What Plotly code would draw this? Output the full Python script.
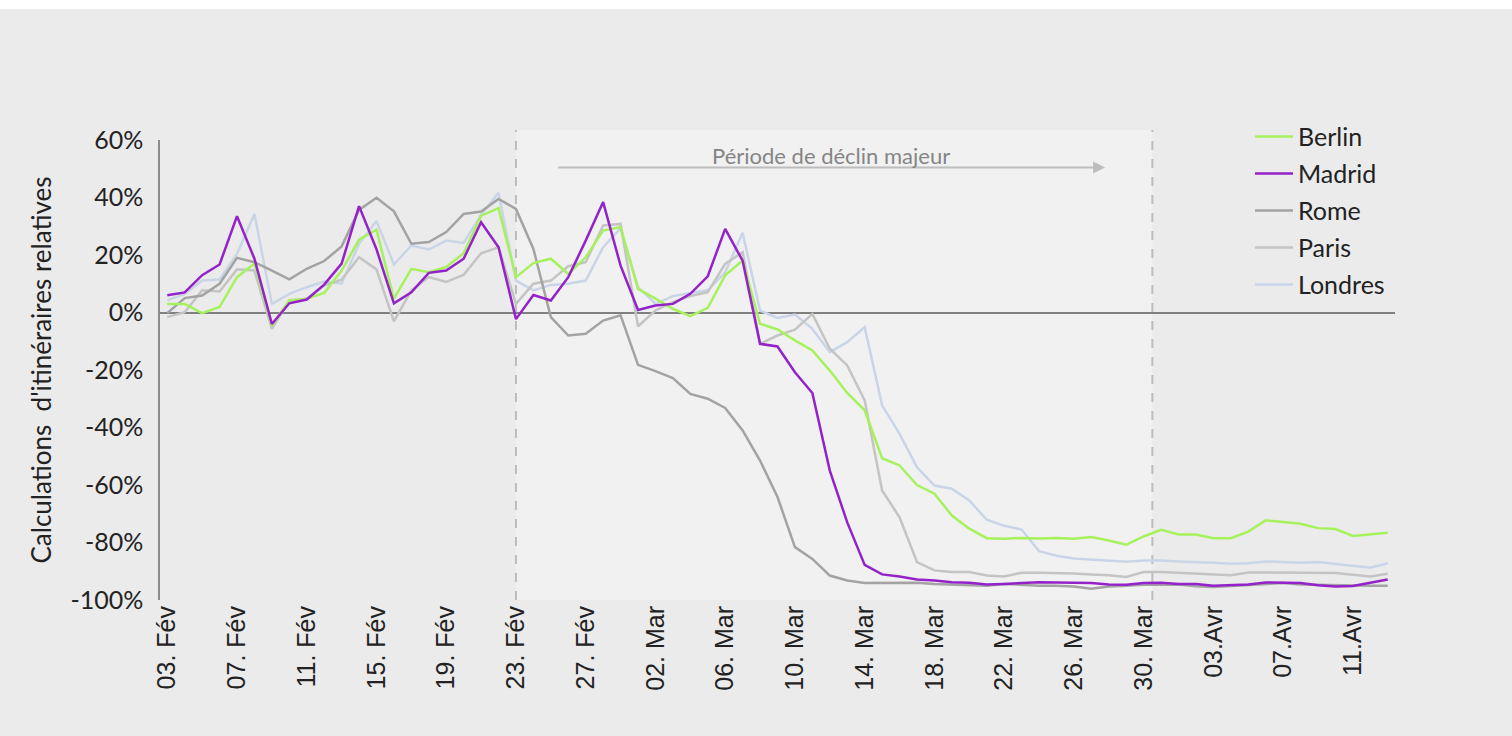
import pandas as pd
import plotly.graph_objects as go

# ---------------- data ----------------
dates = pd.date_range("2020-02-03", periods=71, freq="D")

berlin = [3, 3, -0.2, 1.9, 12.3, 17, -4.5, 4.2, 4.8, 6.8,
          14.6, 25.3, 28.8, 4.8, 15.2, 14, 15.8, 20.6, 33.7, 36.3,
          12.3, 17.2, 18.7, 13.4, 19.2, 28.5, 29.7, 8.2, 4.8, 1.3,
          -1.3, 1.6, 12.9, 18.1, -3.9, -5.9, -9.7, -13.2, -20.2, -28,
          -34, -50.7, -53.2, -60, -63, -70.6, -75.2, -78.5, -78.7, -78.4,
          -78.6, -78.4, -78.7, -78.1, -79.3, -80.8, -77.9, -75.6, -77.2, -77.2,
          -78.5, -78.5, -76.2, -72.3, -72.9, -73.5, -75, -75.3, -77.7, -77.2,
          -76.6]

madrid = [6, 7, 13, 16.7, 33.5, 18.7, -4, 3.2, 4.5, 9.7,
          17, 37, 22, 3.2, 7, 13.8, 14.6, 18.7, 31.4, 22.7,
          -2.3, 6.1, 4.2, 12.3, 25, 38.4, 16.3, 0.9, 2.4, 3,
          6.5, 12.6, 29.1, 18, -10.9, -11.8, -20.8, -28, -55, -73,
          -87.8, -91.1, -91.8, -92.9, -93.2, -93.8, -94, -94.6, -94.4, -94,
          -93.8, -93.9, -94, -94.1, -94.6, -94.7, -94.1, -94, -94.4, -94.4,
          -95, -94.9, -94.6, -93.9, -93.9, -94.1, -94.9, -95.3, -95.1, -94.1,
          -92.9]

rome = [-0.2, 5, 5.9, 10, 19, 17.5, 14.6, 11.5, 15.2, 17.9,
        23, 35.7, 39.9, 35.2, 23.9, 24.5, 28, 34.3, 35.1, 39.5,
        36, 22.1, -1.6, -8, -7.4, -2.8, -1, -18.2, -20.4, -22.8,
        -28.3, -30, -33.2, -41, -51.5, -64.2, -81.6, -85.7, -91.5, -93.2,
        -94.1, -94.1, -94.1, -94, -94.4, -94.6, -95, -95, -94.4, -94.8,
        -95, -95, -95.3, -96.1, -95.3, -95, -94.7, -94.7, -94.6, -95.2,
        -95.5, -95.1, -94.7, -94.4, -94.1, -94.6, -94.7, -95, -95, -95,
        -95]

paris = [-1.6, 0.1, 7.7, 7.3, 15, 14.6, -5.7, 4.2, 4.8, 9.4,
         11.4, 19.2, 15, -3.1, 7.7, 12.3, 10.6, 13.1, 20.6, 22.7,
         3, 10, 11.1, 16.1, 17.5, 30.3, 30.8, -4.8, 0.7, 3.6,
         5.7, 7.1, 16.9, 21, -10.9, -8, -6, -0.5, -12.6, -18.4,
         -30.6, -61.9, -71.2, -86.8, -89.7, -90.3, -90.3, -91.5, -91.8, -90.5,
         -90.5, -90.6, -90.8, -91.1, -91.4, -92, -90.3, -90.3, -90.6, -90.8,
         -91.2, -91.4, -90.4, -90.4, -90.6, -90.6, -90.6, -90.6, -91.2, -91.8,
         -90.9]

londres = [4.2, 6.5, 11.1, 11.5, 20.4, 34.3, 3, 6.5, 8.8, 10.8,
           10, 23.9, 31.8, 16.7, 23.3, 21.9, 25, 24.2, 34, 41.6,
           11.1, 7.7, 9.6, 10, 11.1, 22.7, 29.3, 8.8, 3, 5.7,
           6.8, 7.7, 14, 27.7, 0.7, -1.9, -0.7, -5.7, -13.8, -10.3,
           -5.1, -32.3, -42.2, -53.8, -60.2, -61.3, -65.4, -72.1, -74.2, -75.5,
           -83, -84.6, -85.6, -86, -86.5, -86.7, -86.3, -86.3, -86.6, -86.7,
           -87, -87.4, -87.2, -86.6, -86.8, -87, -86.8, -87.4, -88, -88.8,
           -87.2]

tick_dates = ["2020-02-03", "2020-02-07", "2020-02-11", "2020-02-15", "2020-02-19",
              "2020-02-23", "2020-02-27", "2020-03-02", "2020-03-06", "2020-03-10",
              "2020-03-14", "2020-03-18", "2020-03-22", "2020-03-26", "2020-03-30",
              "2020-04-03", "2020-04-07", "2020-04-11"]
tick_labels = ["03. Fév", "07. Fév", "11. Fév", "15. Fév", "19. Fév",
               "23. Fév", "27. Fév", "02. Mar", "06. Mar", "10. Mar",
               "14. Mar", "18. Mar", "22. Mar", "26. Mar", "30. Mar",
               "03.Avr", "07.Avr", "11.Avr"]
y_ticks = [-100, -80, -60, -40, -20, 0, 20, 40, 60]
y_labels = ["-100%", "-80%", "-60%", "-40%", "-20%", "0%", "20%", "40%", "60%"]

period_start = "2020-02-23"
period_end = "2020-03-30 12:00"

# ---------------- figure ----------------
BG = "#ebebeb"
fig = go.Figure()

series = [
    ("Londres", londres, "#c9d5e7", 5),
    ("Paris", paris, "#c4c4c4", 4),
    ("Rome", rome, "#a3a3a3", 3),
    ("Berlin", berlin, "#a6f25c", 1),
    ("Madrid", madrid, "#9422c9", 2),
]
for name, vals, color, rank in series:
    fig.add_trace(go.Scatter(
        x=dates, y=vals, mode="lines", name=name,
        line=dict(color=color, width=2.5),
        legendrank=rank, legendgroup=name,
        hovertemplate="%{y:.1f}%<extra>" + name + "</extra>",
    ))

# shaded period + dashed boundaries
fig.add_shape(type="rect", xref="x", yref="paper",
              x0=period_start, x1=period_end, y0=0, y1=1.022,
              fillcolor="#f1f1f1", line=dict(width=0), layer="below")
for xv in (period_start, period_end):
    fig.add_shape(type="line", xref="x", yref="paper",
                  x0=xv, x1=xv, y0=0, y1=1.022,
                  line=dict(color="#bdbdbd", width=2, dash="dash"), layer="below")

# white band at top of page
fig.add_shape(type="rect", xref="paper", yref="paper",
              x0=-0.3, x1=1.3, y0=1.2848, y1=1.4,
              fillcolor="white", line=dict(width=0))

# arrow + label
fig.add_annotation(x="2020-03-27 19:00", y=50.4, ax="2020-02-25 08:00", ay=50.4,
                   xref="x", yref="y", axref="x", ayref="y",
                   text="", showarrow=True, arrowhead=2, arrowsize=1.2,
                   arrowwidth=2, arrowcolor="#bdbdbd")
fig.add_annotation(x="2020-03-12 02:00", y=54.6, xref="x", yref="y",
                   text="Période de déclin majeur", showarrow=False,
                   font=dict(family="Lato", size=22, color="#858585"))

fig.update_layout(
    width=1512, height=736,
    paper_bgcolor=BG, plot_bgcolor=BG,
    margin=dict(l=160, r=117, t=140, b=136),
    showlegend=True,
    legend=dict(x=0.8826, y=1.057, xanchor="left", yanchor="top",
                bgcolor="rgba(0,0,0,0)", tracegroupgap=1.5, itemwidth=38,
                font=dict(family="Lato", size=25, color="#222222")),
    font=dict(family="Lato", color="#222222"),
)
fig.update_xaxes(
    type="date",
    range=["2020-02-02 14:00", "2020-04-13 10:00"],
    tickmode="array", tickvals=tick_dates, ticktext=tick_labels,
    tickangle=-90, showgrid=False, zeroline=False, showline=False, ticks="",
    tickfont=dict(family="Liberation Sans", size=25, color="#222222"),
)
fig.update_yaxes(
    range=[-100, 60], tickmode="array", tickvals=y_ticks, ticktext=y_labels,
    showgrid=False, showline=True, linecolor="#8c8c8c", linewidth=1.5,
    zeroline=True, zerolinecolor="#808080", zerolinewidth=1.5,
    ticks="", ticklabelstandoff=10,
    tickfont=dict(family="Lato", size=25, color="#222222"),
    title=dict(text="Calculations\u00a0\u00a0d'itinéraires relatives",
               font=dict(family="Lato", size=26, color="#222222"), standoff=11),
)

fig.write_html("out.html", config={"displayModeBar": False},
               post_script="document.body.style.margin='0';")
